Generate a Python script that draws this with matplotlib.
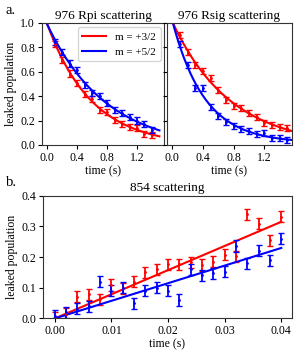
import numpy as np
import matplotlib.pyplot as plt

plt.rcParams['font.family'] = ['Liberation Serif', 'DejaVu Serif']
plt.rcParams['font.size'] = 8.5

# --- data ---
t_rpi = np.round(np.arange(0, 1.41, 0.1), 2)
rpi_32 = [1.0, 0.83, 0.695, 0.585, 0.51, 0.417, 0.373, 0.286, 0.272, 0.204,
          0.172, 0.15, 0.136, 0.09, 0.082]
rpi_52 = [1.0, 0.84, 0.763, 0.667, 0.613, 0.49, 0.428, 0.40, 0.34, 0.286,
          0.259, 0.226, 0.20, 0.17, 0.125]

t_rsig = np.round(np.arange(0, 1.51, 0.1), 2)
rsig_32 = [1.0, 0.90, 0.763, 0.654, 0.608, 0.545, 0.45, 0.368, 0.319, 0.30,
           0.264, 0.232, 0.177, 0.163, 0.15, 0.136]
rsig_52 = [1.0, 0.83, 0.654, 0.463, 0.463, 0.308, 0.237, 0.19, 0.155, 0.128,
           0.114, 0.09, 0.10, 0.054, 0.054, 0.041]
err_top = 0.025

t_854 = np.round(np.arange(0, 0.0401, 0.002), 3)
s854_32 = [0.003, 0.015, 0.07, 0.079, 0.062, 0.109, 0.098, 0.12, 0.150, 0.16,
           0.177, 0.177, 0.183, 0.174, 0.185, 0.207, 0.203, 0.34, 0.308, 0.255,
           0.332]
s854_52 = [0.008, 0.02, 0.032, 0.04, 0.12, 0.09, 0.10, 0.049, 0.09, 0.10,
           0.09, 0.06, 0.16, 0.141, 0.147, 0.152, 0.236, 0.179, 0.22, 0.19,
           0.26]
err_854 = 0.018

labels = ['m = +3/2', 'm = +5/2']
colors = ['red', 'blue']


def exp_fit(t, y):
    # y = a*exp(-t/tau) + c, grid over tau, linear lsq for a, c
    t = np.asarray(t); y = np.asarray(y)
    best = None
    for tau in np.linspace(0.05, 3, 600):
        A = np.column_stack([np.exp(-t / tau), np.ones_like(t)])
        coef, res, *_ = np.linalg.lstsq(A, y, rcond=None)
        r = np.sum((A @ coef - y) ** 2)
        if best is None or r < best[0]:
            best = (r, tau, coef)
    _, tau, (a, c) = best
    return lambda x: a * np.exp(-x / tau) + c


fig = plt.figure(figsize=(2.98, 3.57), dpi=100)
ax1 = fig.add_axes([0.141, 0.594, 0.409, 0.342])
ax2 = fig.add_axes([0.560, 0.594, 0.420, 0.342])
ax3 = fig.add_axes([0.144, 0.108, 0.836, 0.344])

for ax, t, series, title in [(ax1, t_rpi, [rpi_32, rpi_52], '976 Rpi scattering'),
                             (ax2, t_rsig, [rsig_32, rsig_52], '976 Rsig scattering')]:
    tt = np.linspace(0, t[-1] + 0.1, 200)
    for y, c, lab in zip(series, colors, labels):
        f = exp_fit(t, y)
        ax.plot(tt, f(tt), color=c, lw=1.5, label=lab)
        ax.errorbar(t[1:], y[1:], yerr=err_top, fmt='.', color=c, ms=2,
                    elinewidth=1.3, capsize=2, capthick=1.0)
    ax.set_xlim(-0.07, 1.56)
    ax.set_ylim(0, 1)
    ax.set_xticks([0.0, 0.4, 0.8, 1.2])
    ax.set_title(title, fontsize=9.5, pad=3)
    ax.set_xlabel('time (s)', labelpad=1)

ax1.set_yticks(np.arange(0, 1.01, 0.2))
ax1.set_ylabel('leaked population', labelpad=2)
ax2.set_yticks(np.arange(0, 1.01, 0.2))
ax2.tick_params(labelleft=False)
ax1.legend(loc='upper right', fontsize=8, handlelength=2.2,
           borderaxespad=0.3, bbox_to_anchor=(1.0, 0.99))

tt = np.linspace(0, t_854[-1], 50)
for y, c in zip([s854_32, s854_52], colors):
    x = np.asarray(t_854); yv = np.asarray(y)
    slope = np.sum(x * yv) / np.sum(x * x)
    ax3.plot(tt, slope * tt, color=c, lw=1.5)
    ax3.errorbar(t_854, y, yerr=err_854, fmt='.', color=c, ms=2,
                 elinewidth=1.3, capsize=2, capthick=1.0)
ax3.set_xlim(-0.0021, 0.0419)
ax3.set_ylim(0, 0.4)
ax3.set_xticks([0.0, 0.01, 0.02, 0.03, 0.04])
ax3.set_xticklabels(['0.00', '0.01', '0.02', '0.03', '0.04'])
ax3.set_yticks(np.arange(0, 0.41, 0.1))
ax3.set_title('854 scattering', fontsize=9.5, pad=3)
ax3.set_xlabel('time (s)', labelpad=1)
ax3.set_ylabel('leaked population', labelpad=2)

for ax in (ax1, ax2, ax3):
    for s in ax.spines.values():
        s.set_color('#333333')
    ax.tick_params(length=3, width=0.8, pad=2)

fig.text(0.02, 0.96, 'a.', fontsize=10.5)
fig.text(0.02, 0.478, 'b.', fontsize=10.5)

fig.savefig('out.png', dpi=100)
